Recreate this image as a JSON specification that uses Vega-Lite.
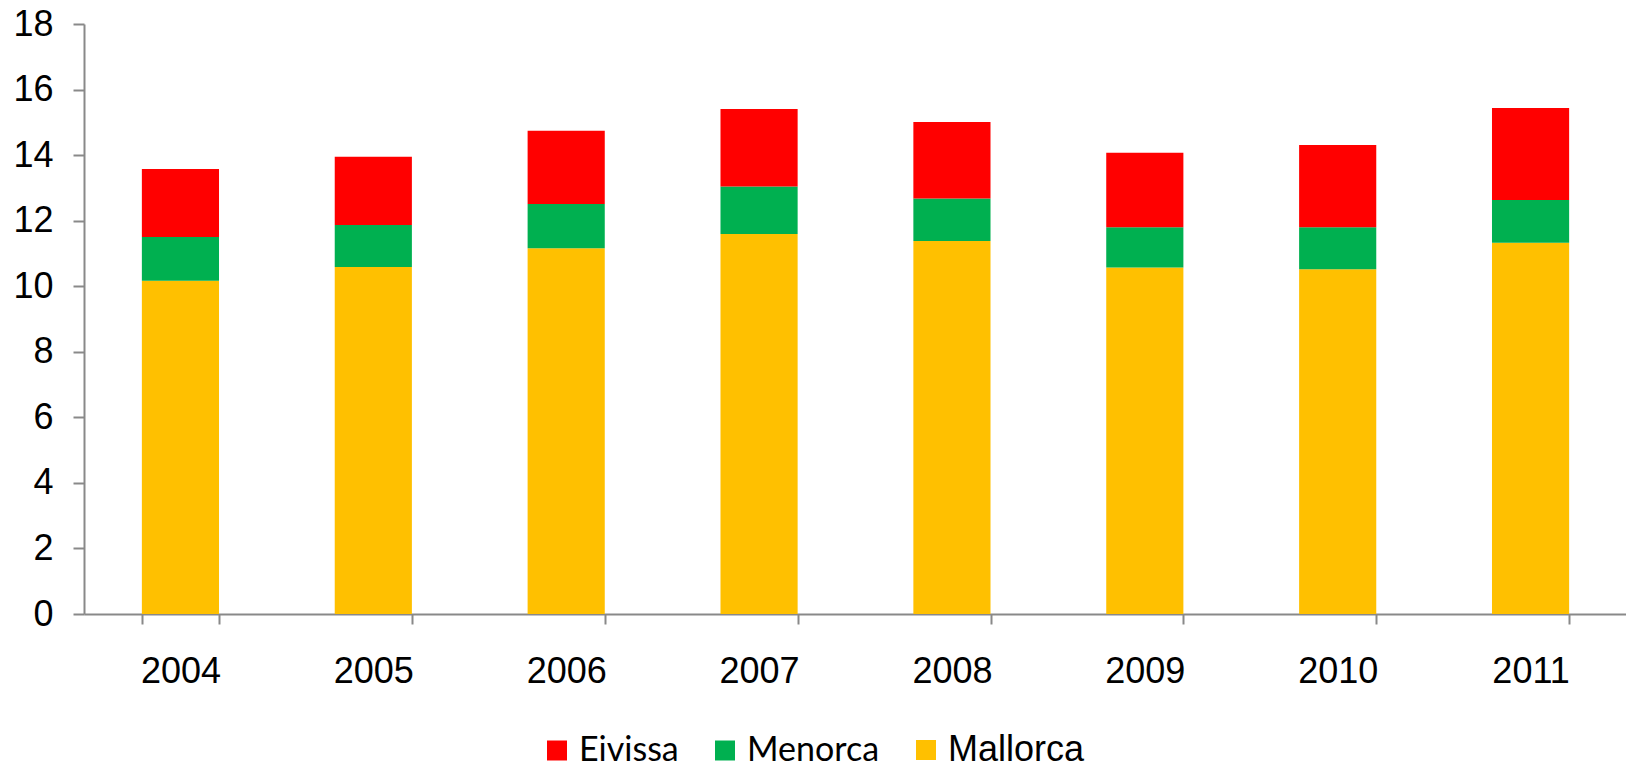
{
  "$schema": "https://vega.github.io/schema/vega-lite/v6.json",
  "autosize": {"type": "none"},
  "width": 1543,
  "height": 590,
  "padding": {"left": 84, "top": 24, "right": 0, "bottom": 154},
  "background": "white",
  "config": {"view": {"stroke": null}},
  "data": {"values": [
    {"year": "2004", "island": "Mallorca", "value": 10.17, "ord": 1},
    {"year": "2004", "island": "Menorca", "value": 1.33, "ord": 2},
    {"year": "2004", "island": "Eivissa", "value": 2.08, "ord": 3},
    {"year": "2005", "island": "Mallorca", "value": 10.59, "ord": 1},
    {"year": "2005", "island": "Menorca", "value": 1.28, "ord": 2},
    {"year": "2005", "island": "Eivissa", "value": 2.08, "ord": 3},
    {"year": "2006", "island": "Mallorca", "value": 11.16, "ord": 1},
    {"year": "2006", "island": "Menorca", "value": 1.35, "ord": 2},
    {"year": "2006", "island": "Eivissa", "value": 2.23, "ord": 3},
    {"year": "2007", "island": "Mallorca", "value": 11.59, "ord": 1},
    {"year": "2007", "island": "Menorca", "value": 1.45, "ord": 2},
    {"year": "2007", "island": "Eivissa", "value": 2.37, "ord": 3},
    {"year": "2008", "island": "Mallorca", "value": 11.38, "ord": 1},
    {"year": "2008", "island": "Menorca", "value": 1.30, "ord": 2},
    {"year": "2008", "island": "Eivissa", "value": 2.33, "ord": 3},
    {"year": "2009", "island": "Mallorca", "value": 10.57, "ord": 1},
    {"year": "2009", "island": "Menorca", "value": 1.23, "ord": 2},
    {"year": "2009", "island": "Eivissa", "value": 2.27, "ord": 3},
    {"year": "2010", "island": "Mallorca", "value": 10.52, "ord": 1},
    {"year": "2010", "island": "Menorca", "value": 1.28, "ord": 2},
    {"year": "2010", "island": "Eivissa", "value": 2.51, "ord": 3},
    {"year": "2011", "island": "Mallorca", "value": 11.33, "ord": 1},
    {"year": "2011", "island": "Menorca", "value": 1.30, "ord": 2},
    {"year": "2011", "island": "Eivissa", "value": 2.81, "ord": 3}
  ]},
  "mark": {"type": "bar"},
  "encoding": {
    "x": {
      "field": "year", "type": "nominal",
      "scale": {"paddingInner": 0.6, "paddingOuter": 0.3},
      "axis": {
        "title": null, "labelAngle": 0,
        "labelFont": "Liberation Sans", "labelFontSize": 36, "labelColor": "#000000",
        "labelPadding": 30,
        "domainColor": "#898989", "domainWidth": 2,
        "tickColor": "#898989", "tickWidth": 2, "tickSize": 10, "tickBand": "extent"
      }
    },
    "y": {
      "field": "value", "type": "quantitative", "stack": "zero",
      "scale": {"domain": [0, 18], "nice": false},
      "axis": {
        "title": null, "values": [0, 2, 4, 6, 8, 10, 12, 14, 16, 18], "grid": false,
        "labelFont": "Liberation Sans", "labelFontSize": 36, "labelColor": "#000000",
        "labelPadding": 20,
        "domainColor": "#898989", "domainWidth": 2,
        "tickColor": "#898989", "tickWidth": 2, "tickSize": 11
      }
    },
    "color": {
      "field": "island", "type": "nominal",
      "scale": {"domain": ["Eivissa", "Menorca", "Mallorca"], "range": ["#FF0000", "#00B050", "#FFC000"]},
      "legend": {
        "title": null, "orient": "none", "direction": "horizontal",
        "legendX": 456, "legendY": 709,
        "symbolType": "square", "symbolSize": 400, "symbolStrokeWidth": 0, "symbolOpacity": 1,
        "labelFontSize": 36, "labelFont": "Lato", "labelColor": "#000000",
        "columnPadding": 29, "labelOffset": 5,
        "encode": {"labels": {"update": {
          "font": {"signal": "datum.label === 'Mallorca' ? 'Liberation Sans' : 'Lato'"},
          "fontSize": {"signal": "datum.label === 'Mallorca' ? 36 : 34"}
        }}}
      }
    },
    "order": {"field": "ord", "type": "quantitative"}
  }
}
